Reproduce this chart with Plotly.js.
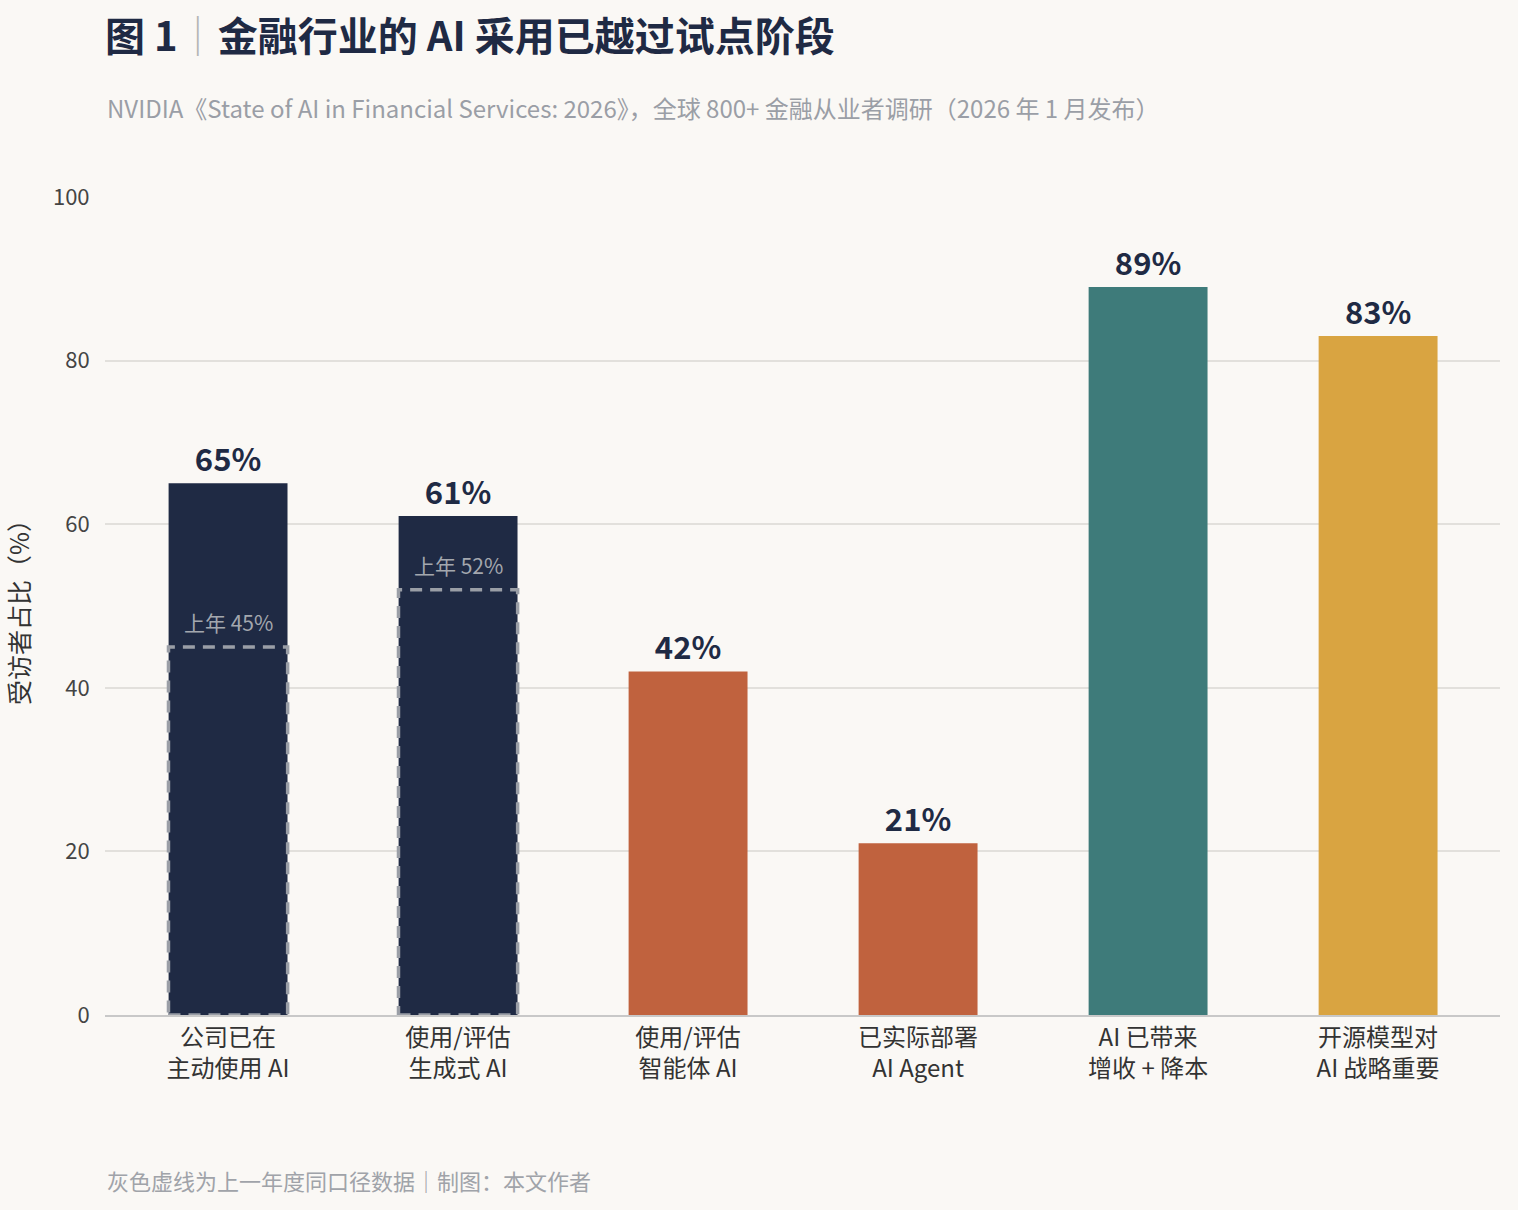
<!DOCTYPE html>
<html>
<head>
<meta charset="utf-8">
<script src="https://cdn.plot.ly/plotly-3.0.1.min.js"></script>
<style>
  body { margin: 0; background: #faf8f5; }
  #chart { width: 1518px; height: 1210px; }
</style>
</head>
<body>
<div id="chart"></div>
<script>
var categories = [
  "公司已在<br>主动使用 AI",
  "使用/评估<br>生成式 AI",
  "使用/评估<br>智能体 AI",
  "已实际部署<br>AI Agent",
  "AI 已带来<br>增收 + 降本",
  "开源模型对<br>AI 战略重要"
];
var values = [65, 61, 42, 21, 89, 83];
var barColors = ["#1f2a44", "#1f2a44", "#c0623e", "#c0623e", "#3e7b7a", "#d9a441"];
// last year's figures (only first two bars)
var prevValues = [45, 52, null, null, null, null];

var font = '"Noto Sans CJK SC", "Noto Sans", sans-serif';
var halfW = 0.259;

var shapes = [];
var annotations = [];
for (var i = 0; i < prevValues.length; i++) {
  if (prevValues[i] === null) continue;
  shapes.push({
    type: 'rect', xref: 'x', yref: 'y',
    x0: i - halfW, x1: i + halfW, y0: 0, y1: prevValues[i],
    line: { color: '#9a9ea6', width: 3.5, dash: '12px,8px' },
    fillcolor: 'rgba(0,0,0,0)'
  });
  annotations.push({
    x: i, y: prevValues[i], xref: 'x', yref: 'y',
    text: '上年 ' + prevValues[i] + '%', showarrow: false,
    yanchor: 'bottom', yshift: 8,
    font: { family: font, size: 21, color: '#a3a7ae' }
  });
}
annotations.push({
  xref: 'paper', yref: 'paper', x: 0, y: -0.202, xanchor: 'left', yanchor: 'middle',
  text: '灰色虚线为上一年度同口径数据｜制图：本文作者', showarrow: false,
  font: { family: font, size: 22, color: '#a0a3a9' }
});
annotations.push({
  xref: 'paper', yref: 'paper', x: 0, y: 1.109, xanchor: 'left', yanchor: 'middle',
  text: 'NVIDIA《State of AI in Financial Services: 2026》，全球 800+ 金融从业者调研（2026 年 1 月发布）',
  showarrow: false, font: { family: font, size: 24, color: '#9a9ea6' }
});

var data = [{
  type: 'bar',
  x: categories.map(function (c, k) { return k; }),
  y: values,
  marker: { color: barColors },
  text: values.map(function (v) { return '<b>' + v + '%</b>'; }),
  textposition: 'outside',
  textfont: { family: font, size: 31, color: '#1f2a44' },
  cliponaxis: false,
  hoverinfo: 'skip'
}];

var layout = {
  width: 1518, height: 1210,
  paper_bgcolor: '#faf8f5', plot_bgcolor: '#faf8f5',
  margin: { l: 105, r: 18, t: 197, b: 195 },
  bargap: 0.483,
  showlegend: false,
  font: { family: font, color: '#333' },
  title: {
    text: '<b>图 1</b><span style="color:#b5b5b5">｜</span><b>金融行业的 AI 采用已越过试点阶段</b>',
    x: 105 / 1518, xanchor: 'left', y: 1 - 37 / 1210, yanchor: 'middle',
    font: { family: font, size: 40, color: '#1f2a44' }
  },
  xaxis: {
    tickvals: categories.map(function (c, k) { return k; }),
    ticktext: categories,
    range: [-0.535, 5.53],
    tickfont: { family: font, size: 24, color: '#333' },
    showline: true, linecolor: '#c8c8c8', linewidth: 1.5,
    ticks: '', showgrid: false
  },
  yaxis: {
    range: [0, 100], dtick: 20,
    gridcolor: '#e2e0dc', gridwidth: 1.5,
    zeroline: false,
    tickfont: { family: font, size: 22, color: '#444' },
    ticks: 'outside', ticklen: 10, tickcolor: 'rgba(0,0,0,0)',
    title: { text: '受访者占比（%）', standoff: 22, font: { family: font, size: 25, color: '#333' } }
  },
  shapes: shapes,
  annotations: annotations
};

Plotly.newPlot('chart', data, layout, { displayModeBar: false });
</script>
</body>
</html>
